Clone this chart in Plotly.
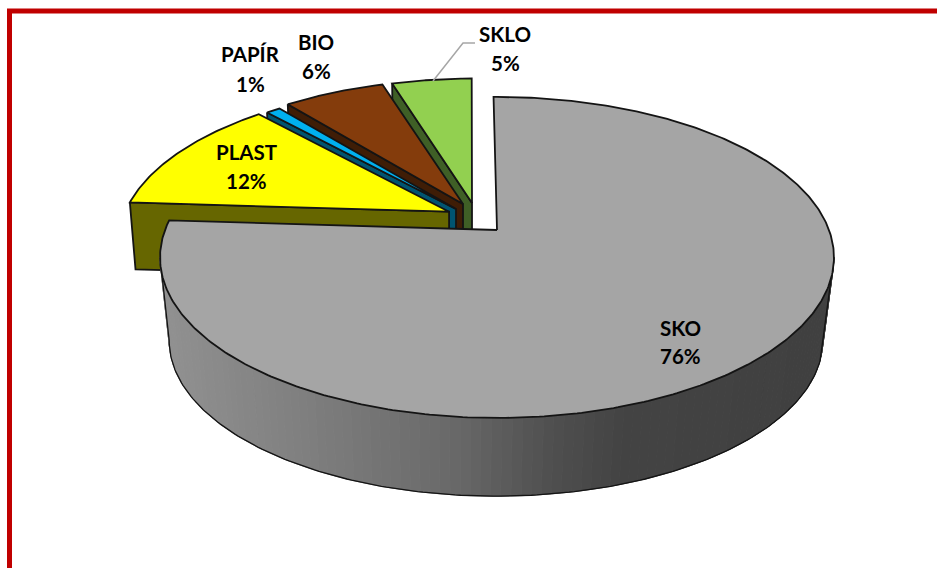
import numpy as np
import plotly.graph_objects as go

# ---- data ----
CATEGORIES = ["SKO", "PLAST", "PAPÍR", "BIO", "SKLO"]
VALUES = [76, 12, 1, 6, 5]
TOP_COLORS = ["#a5a5a5", "#ffff00", "#00b0f0", "#843c0c", "#92d050"]
FACE_COLORS = ["#666666", "#666600", "#005470", "#3f1d06", "#3f5f26"]

# ---- styling / geometry ----
W, H = 937, 568
EXPLODE_U = [0.0, -0.1473, -0.1264, -0.1054, -0.0776]
EXPLODE_V = [0.0, 0.12, 0.138, 0.1718, 0.1786]
RADIUS = [1.0, 0.995, 0.988, 0.988, 0.988]
START_LEAN = [-0.7, 0.0, 0.6, 0.3, 0.4]
END_LEAN = [0.0, 0.5, 0.0, 0.0, -0.8]
K = 0.171
TOP_PLANE = dict(x0=497, y0=230, a=155.8, b=332)
BOTTOM_PLANE = dict(x0=496, y0=314, a=151, b=322)
EXPLODED_BOTTOM = dict(x0=496, y0=296, a=151, b=326)
LABEL_X = [680.5, 246, 250, 316, 505]
LABEL_Y1 = [328, 152, 54, 42, 34]
LABEL_Y2 = [356, 181, 84, 71, 63]
FONT = "Lato"
FONT_SIZE = 20.5
OUT = "#141414"
GRAD_X = [160, 300, 450, 550, 620, 840]
GRAD_G = [146, 128, 106, 80, 68, 64]


def project(theta_deg, i, plane):
    t = np.radians(np.asarray(theta_deg, dtype=float))
    u = RADIUS[i] * np.sin(t) + EXPLODE_U[i]
    v = RADIUS[i] * np.cos(t) + EXPLODE_V[i]
    d = 1 + K * v
    return plane["x0"] + plane["b"] * u / d, plane["y0"] - plane["a"] * v / d


def apex(i, plane):
    u, v = EXPLODE_U[i], EXPLODE_V[i]
    d = 1 + K * v
    return plane["x0"] + plane["b"] * u / d, plane["y0"] - plane["a"] * v / d


def poly(fig, xs, ys, fill, line=OUT, width=1.8):
    fig.add_trace(go.Scatter(
        x=list(xs), y=list(ys), mode="lines", fill="toself", fillcolor=fill,
        line=dict(color=line, width=width), hoverinfo="skip", showlegend=False))


total = sum(VALUES)
edges = np.concatenate([[0], np.cumsum(VALUES)]) * 360.0 / total
fig = go.Figure()

# exploded slices, back to front
for i in [4, 3, 2, 1]:
    start, end = edges[i] + START_LEAN[i], edges[i + 1] + END_LEAN[i]
    tx, ty = project([start], i, TOP_PLANE)
    bx, by = project([start], i, EXPLODED_BOTTOM)
    ax, ay = apex(i, TOP_PLANE)
    cx, cy = apex(i, EXPLODED_BOTTOM)
    poly(fig, [tx[0], ax, ax, bx[0], tx[0]], [ty[0], ay, cy, by[0], ty[0]], FACE_COLORS[i])
    arc = np.linspace(start, end, 60)
    x, y = project(arc, i, TOP_PLANE)
    poly(fig, [ax, *x, ax], [ay, *y, ay], TOP_COLORS[i])

# main slice: shaded rim
A0, A1 = 99.8, 260.2
angles = np.arange(A0, A1 + 1.5, 1.5)
for a, b in zip(angles[:-1], angles[1:]):
    seg = np.array([a, b])
    x1, y1 = project(seg, 0, TOP_PLANE)
    x2, y2 = project(seg, 0, BOTTOM_PLANE)
    g = int(np.interp((x1.mean() + x2.mean()) / 2, GRAD_X, GRAD_G))
    c = f"rgb({g},{g},{g})"
    poly(fig, [x1[0], x1[1], x2[1], x2[0], x1[0]], [y1[0], y1[1], y2[1], y2[0], y1[0]], c, line=c, width=1)

rim = np.linspace(A0, A1, 200)
x1, y1 = project(rim, 0, TOP_PLANE)
x2, y2 = project(rim, 0, BOTTOM_PLANE)
fig.add_trace(go.Scatter(x=[x1[0], *x2, x1[-1]], y=[y1[0], *y2, y1[-1]], mode="lines",
                         line=dict(color=OUT, width=1.3), hoverinfo="skip", showlegend=False))

# main slice: top (its first edge leans a little in the perspective)
arc = np.linspace(edges[0] + START_LEAN[0], edges[1], 400)
x, y = project(arc, 0, TOP_PLANE)
ax, ay = apex(0, TOP_PLANE)
poly(fig, [ax, *x, ax], [ay, *y, ay], TOP_COLORS[0])

annotations = []
for name, val, lx, ly1, ly2 in zip(CATEGORIES, VALUES, LABEL_X, LABEL_Y1, LABEL_Y2):
    for txt, ly in ((name, ly1), (f"{val}%", ly2)):
        annotations.append(dict(x=lx, y=ly, xref="x", yref="y", text=f"<b>{txt}</b>", showarrow=False,
                                xanchor="center", yanchor="middle",
                                font=dict(family=FONT, size=FONT_SIZE, color="#000000")))

shapes = [
    dict(type="path", path=f"M 9.5 {H} L 9.5 11 L {W} 11", xref="x", yref="y",
         line=dict(color="#c00000", width=5)),
    dict(type="path", path="M 433 81 L 463 43 L 475 43", xref="x", yref="y",
         line=dict(color="#a6a6a6", width=1.5)),
]

fig.update_layout(
    width=W, height=H, margin=dict(l=0, r=0, t=0, b=0), autosize=False,
    paper_bgcolor="white", plot_bgcolor="white", showlegend=False,
    xaxis=dict(range=[0, W], visible=False, fixedrange=True),
    yaxis=dict(range=[H, 0], visible=False, fixedrange=True),
    annotations=annotations, shapes=shapes,
)
fig.write_html("out.html", config={"displayModeBar": False},
               post_script="document.body.style.margin='0';")
